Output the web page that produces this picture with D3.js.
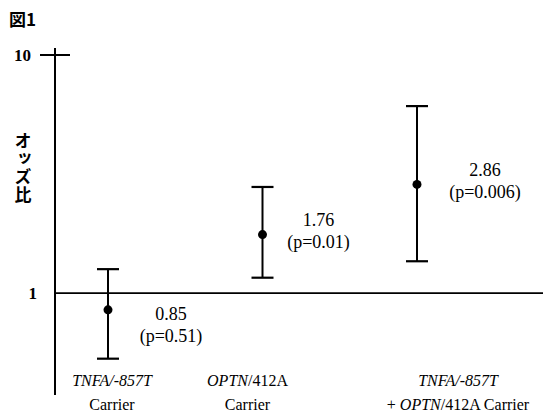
<!DOCTYPE html>
<html>
<head>
<meta charset="utf-8">
<script src="https://cdn.jsdelivr.net/npm/d3@7"></script>
<style>
  body { margin: 0; background: #fff; }
  svg { display: block; }
</style>
</head>
<body>
<div id="chart"></div>
<script>
    // data
    var categories = ['c1', 'c2', 'c3'];
    var oddsRatio = [0.85, 1.76, 2.86];
    var ciLow = [0.53, 1.16, 1.36];
    var ciHigh = [1.26, 2.79, 6.1];
    var pValues = ['(p=0.51)', '(p=0.01)', '(p=0.006)'];
    var yTicks = [1, 10];

    var width = 545,
        height = 414;

    var svg = d3.select('#chart').append('svg')
        .attr('width', width)
        .attr('height', height);

    var x = d3.scalePoint().domain(categories).range([108, 417]);
    var y = d3.scaleLog().domain([0.373, 10.7]).range([395, 48]);

    var serif = '"Liberation Serif", "Times New Roman", serif';
    var cjk = '"Noto Sans CJK JP", sans-serif';

    // title
    svg.append('text')
        .attr('x', 9)
        .attr('y', 26)
        .attr('font-family', cjk)
        .attr('font-weight', 'bold')
        .attr('font-size', 17)
        .text('図1');

    // y axis line
    svg.append('line')
        .attr('x1', 55).attr('x2', 55)
        .attr('y1', y.range()[1]).attr('y2', y.range()[0])
        .attr('stroke', '#000')
        .attr('stroke-width', 2);

    // tick at 10
    svg.append('line')
        .attr('x1', 40).attr('x2', 70)
        .attr('y1', y(10)).attr('y2', y(10))
        .attr('stroke', '#000')
        .attr('stroke-width', 2);

    // reference line at OR = 1
    svg.append('line')
        .attr('x1', 55).attr('x2', 543)
        .attr('y1', y(1)).attr('y2', y(1))
        .attr('stroke', '#000')
        .attr('stroke-width', 1.8);

    svg.selectAll('.ytick').data(yTicks).enter().append('text')
        .attr('class', 'ytick')
        .attr('x', function (d) { return d === 10 ? 31 : 37; })
        .attr('y', function (d) { return y(d); })
        .attr('dy', '0.35em')
        .attr('text-anchor', 'end')
        .attr('font-family', serif)
        .attr('font-weight', 'bold')
        .attr('font-size', 17)
        .text(function (d) { return d; });

    // y label, written vertically
    svg.append('text')
        .attr('x', 23)
        .attr('y', 132)
        .attr('font-family', cjk)
        .attr('font-weight', 'bold')
        .attr('font-size', 17)
        .attr('letter-spacing', 1)
        .style('writing-mode', 'vertical-rl')
        .style('text-orientation', 'upright')
        .text('オッズ比');

    // error bars
    var g = svg.selectAll('.bar').data(categories).enter().append('g')
        .attr('class', 'bar');

    g.append('line')
        .attr('x1', function (d) { return x(d); })
        .attr('x2', function (d) { return x(d); })
        .attr('y1', function (d, i) { return y(ciHigh[i]); })
        .attr('y2', function (d, i) { return y(ciLow[i]); })
        .attr('stroke', '#000')
        .attr('stroke-width', 2);

    [ciHigh, ciLow].forEach(function (arr) {
        g.append('line')
            .attr('x1', function (d) { return x(d) - 11; })
            .attr('x2', function (d) { return x(d) + 11; })
            .attr('y1', function (d, i) { return y(arr[i]); })
            .attr('y2', function (d, i) { return y(arr[i]); })
            .attr('stroke', '#000')
            .attr('stroke-width', 2.2);
    });

    g.append('circle')
        .attr('cx', function (d) { return x(d); })
        .attr('cy', function (d, i) { return y(oddsRatio[i]); })
        .attr('r', 4.5)
        .attr('fill', '#000');

    // value labels (nudged like the original)
    var labelDx = [63, 56, 68];
    var labelDy = [10, -9, -8];

    g.append('text')
        .attr('x', function (d, i) { return x(d) + labelDx[i]; })
        .attr('y', function (d, i) { return y(oddsRatio[i]) + labelDy[i]; })
        .attr('text-anchor', 'middle')
        .attr('font-family', serif)
        .attr('font-size', 18)
        .text(function (d, i) { return oddsRatio[i].toFixed(2); });

    g.append('text')
        .attr('x', function (d, i) { return x(d) + labelDx[i]; })
        .attr('y', function (d, i) { return y(oddsRatio[i]) + labelDy[i] + 22; })
        .attr('text-anchor', 'middle')
        .attr('font-family', serif)
        .attr('font-size', 18)
        .text(function (d, i) { return pValues[i]; });

    // category labels
    var catDx = [4, -15, 41];
    var line1 = [
        [['TNFA', true], ['/-857T', true]],
        [['OPTN', true], ['/412A', false]],
        [['TNFA', true], ['/-857T', true]]
    ];
    var line2 = [
        [['Carrier', false]],
        [['Carrier', false]],
        [['+ ', false], ['OPTN', true], ['/412A Carrier', false]]
    ];

    function addLabel(parts, i, yy) {
        var t = svg.append('text')
            .attr('x', x(categories[i]) + catDx[i])
            .attr('y', yy)
            .attr('text-anchor', 'middle')
            .attr('font-family', serif)
            .attr('font-size', 16);
        parts.forEach(function (p) {
            t.append('tspan')
                .attr('font-style', p[1] ? 'italic' : 'normal')
                .text(p[0]);
        });
    }

    categories.forEach(function (c, i) {
        addLabel(line1[i], i, 386);
        addLabel(line2[i], i, 410);
    });
</script>
</body>
</html>
